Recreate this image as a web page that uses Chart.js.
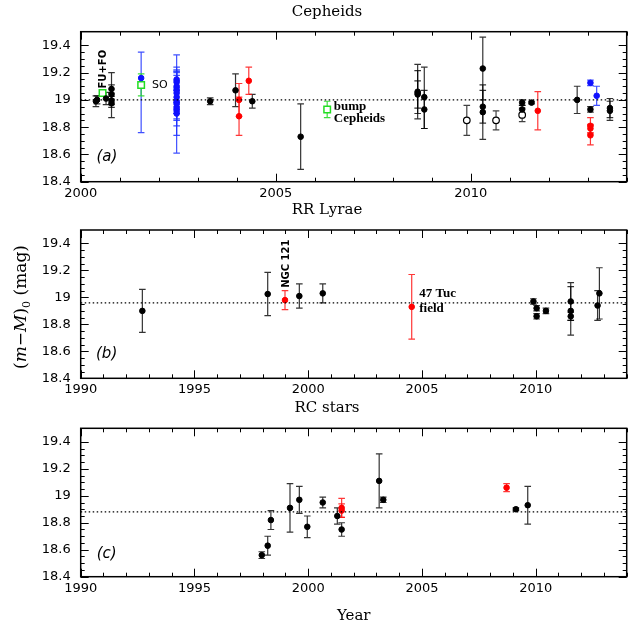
<!DOCTYPE html>
<html><head><meta charset="utf-8">
<script src="https://cdn.jsdelivr.net/npm/chart.js@4"></script>
<style>
html,body{margin:0;padding:0;background:#fff;}
#wrap{position:relative;width:634px;height:626px;overflow:hidden;}
canvas{position:absolute;left:0;}
</style></head><body>
<div id="wrap">
<canvas id="ca" width="634" height="200" style="top:0px;width:634px;height:200px"></canvas>
<canvas id="cb" width="634" height="200" style="top:200px;width:634px;height:200px"></canvas>
<canvas id="cc" width="634" height="226" style="top:400px;width:634px;height:226px"></canvas>
</div>
<script>
// ---- DATA: [year, distance modulus, error below, error above] ----
// Panel (a) Cepheids
const cephBlack = [
 [2000.39,18.99,0.04,0.04],[2000.42,19.00,0.03,0.03],[2000.65,19.01,0.045,0.045],
 [2000.79,19.08,0.03,0.03],[2000.79,19.04,0.17,0.16],[2000.79,18.995,0.03,0.03],[2000.79,18.975,0.03,0.03],
 [2003.32,18.99,0.025,0.025],[2003.97,19.07,0.12,0.12],[2004.40,18.99,0.05,0.05],
 [2005.64,18.73,0.24,0.24],
 [2008.64,19.06,0.20,0.20],[2008.64,19.05,0.15,0.165],[2008.64,19.04,0.10,0.10],
 [2008.81,19.02,0.23,0.22],[2008.81,18.93,0.14,0.14],
 [2010.31,19.23,0.23,0.23],[2010.31,18.95,0.24,0.16],[2010.31,18.91,0.08,0.16],
 [2011.32,18.98,0.02,0.02],[2011.32,18.93,0.03,0.03],[2011.56,18.98,0.01,0.01],
 [2012.73,19.00,0.10,0.10],[2013.07,18.93,0.02,0.02],
 [2013.57,18.94,0.07,0.07],[2013.57,18.92,0.07,0.07]
];
const cephOpen = [[2009.90,18.85,0.11,0.11],[2010.65,18.85,0.07,0.07],[2011.32,18.89,0.05,0.05]];
const cephRed = [
 [2004.06,19.00,0.12,0.12],[2004.06,18.88,0.14,0.14],[2004.31,19.14,0.10,0.10],
 [2011.72,18.92,0.14,0.14],
 [2013.07,18.81,0.06,0.06],[2013.07,18.79,0.03,0.03],[2013.07,18.74,0.07,0.07]
];
const cephBlue = [
 [2001.55,19.16,0.40,0.19],
 [2002.46,19.15,0.06,0.06],[2002.46,19.13,0.05,0.05],[2002.46,19.10,0.12,0.12],[2002.46,19.07,0.14,0.14],
 [2002.46,19.05,0.15,0.15],[2002.46,19.02,0.12,0.12],[2002.46,18.99,0.25,0.25],[2002.46,18.97,0.36,0.36],
 [2002.46,18.94,0.13,0.13],[2002.46,18.92,0.06,0.06],[2002.46,18.90,0.05,0.05],
 [2013.07,19.125,0.02,0.02],[2013.23,19.03,0.07,0.07]
];
const cephGreen = [[2000.56,19.05,0.02,0.02],[2001.55,19.11,0.08,0.08],[2006.32,18.93,0.06,0.06]];
const cephMean = 19.0;

// Panel (b) RR Lyrae
const rrBlack = [
 [1992.71,18.90,0.16,0.16],[1998.22,19.025,0.16,0.16],[1999.61,19.01,0.09,0.09],[2000.64,19.03,0.07,0.07],
 [2009.90,18.97,0.02,0.02],[2010.04,18.92,0.02,0.02],[2010.04,18.86,0.02,0.02],[2010.45,18.90,0.02,0.02],
 [2011.54,18.97,0.14,0.14],[2011.54,18.90,0.18,0.18],[2011.54,18.86,0.03,0.03],
 [2012.72,18.94,0.11,0.11],[2012.80,19.03,0.19,0.19]
];
const rrRed = [[1998.98,18.98,0.07,0.07],[2004.55,18.93,0.24,0.24]];
const rrMean = 18.96;

// Panel (c) RC stars
const rcBlack = [
 [1997.96,18.56,0.025,0.025],[1998.22,18.63,0.07,0.07],[1998.36,18.82,0.07,0.07],[1999.20,18.91,0.18,0.18],
 [1999.61,18.97,0.10,0.10],[1999.96,18.77,0.08,0.08],[2000.64,18.95,0.04,0.04],[2001.28,18.85,0.06,0.06],
 [2001.47,18.75,0.05,0.05],[2003.12,19.11,0.20,0.20],[2003.30,18.97,0.02,0.02],
 [2009.13,18.90,0.01,0.01],[2009.65,18.93,0.14,0.14]
];
const rcRed = [[2001.47,18.91,0.07,0.07],[2001.47,18.89,0.05,0.05],[2008.72,19.06,0.03,0.03]];
const rcMean = 18.88;

const yTicks = [18.4, 18.6, 18.8, 19.0, 19.2, 19.4];
const yRange = [18.4, 19.5];
const xRangeA = [2000, 2014];
const xRangeBC = [1990, 2014];

// ---- helpers ----
const SANS = "'DejaVu Sans', sans-serif";
const SERIF = "'DejaVu Serif', serif";
function pts(a){ return a.map(r => ({x:r[0], y:r[1]})); }
function errs(a){ return a.map(r => [r[2], r[3]]); }

function ds(arr, kind){
  const base = {data: pts(arr), err: errs(arr), pointBorderWidth: 1};
  if (kind === 'black') return Object.assign(base, {pointRadius:2.8, backgroundColor:'#000', borderColor:'#000', errColor:'rgba(0,0,0,0.8)'});
  if (kind === 'open') return Object.assign(base, {pointRadius:3.3, backgroundColor:'#fff', borderColor:'#000', pointBorderWidth:1.2, errColor:'rgba(0,0,0,0.75)'});
  if (kind === 'red') return Object.assign(base, {pointRadius:2.8, backgroundColor:'#ff0000', borderColor:'#ff0000', errColor:'rgba(255,20,20,0.85)'});
  if (kind === 'blue') return Object.assign(base, {pointRadius:2.8, backgroundColor:'#1010ff', borderColor:'#1010ff', errColor:'rgba(30,50,255,0.85)'});
  if (kind === 'green') return Object.assign(base, {pointRadius:4.6, pointStyle:'rect', backgroundColor:'#fff', borderColor:'#22dd22', pointBorderWidth:1.5, errColor:'rgba(40,220,40,0.9)'});
}
function meanLine(v, xr){
  return {data:[{x:xr[0], y:v},{x:xr[1], y:v}], showLine:true, pointRadius:0, borderColor:'#000', borderWidth:1.2, borderDash:[1.5,2.5]};
}

const panelPlugin = {
  id: 'panel',
  beforeDatasetsDraw(chart){
    const ctx = chart.ctx, ys = chart.scales.y;
    chart.data.datasets.forEach((d, i) => {
      if (!d.err) return;
      const meta = chart.getDatasetMeta(i);
      ctx.save();
      ctx.strokeStyle = d.errColor; ctx.lineWidth = 1.2;
      meta.data.forEach((p, j) => {
        const v = d.data[j].y, e = d.err[j];
        const y1 = ys.getPixelForValue(v - e[0]), y2 = ys.getPixelForValue(v + e[1]);
        ctx.beginPath();
        ctx.moveTo(p.x, y1); ctx.lineTo(p.x, y2);
        ctx.moveTo(p.x-3.3, y1); ctx.lineTo(p.x+3.3, y1);
        ctx.moveTo(p.x-3.3, y2); ctx.lineTo(p.x+3.3, y2);
        ctx.stroke();
      });
      ctx.restore();
    });
  },
  afterDraw(chart, args, o){
    const ctx = chart.ctx, xs = chart.scales.x, ys = chart.scales.y;
    const {left, right, top, bottom} = chart.chartArea;
    ctx.save();
    ctx.strokeStyle = '#000'; ctx.lineWidth = 1;
    ctx.beginPath();
    for (let yr = o.xr[0]; yr <= o.xr[1]; yr++) {
      const px = Math.round(xs.getPixelForValue(yr)) + 0.5;
      const L = (yr % 5 === 0) ? 8 : 4;
      ctx.moveTo(px, bottom); ctx.lineTo(px, bottom - L);
      ctx.moveTo(px, top); ctx.lineTo(px, top + L);
    }
    for (let k = 0; k <= 20; k++) {
      const v = yRange[0] + k * 0.05;
      if (v > yRange[1] + 1e-9) break;
      const py = Math.round(ys.getPixelForValue(v)) + 0.5;
      const L = (k % 4 === 0) ? 8 : 4;
      ctx.moveTo(left, py); ctx.lineTo(left + L, py);
      ctx.moveTo(right, py); ctx.lineTo(right - L, py);
    }
    ctx.stroke();
    ctx.lineWidth = 1.5;
    ctx.strokeRect(left, top, right - left, bottom - top);
    ctx.fillStyle = '#000';
    ctx.textAlign = 'center'; ctx.textBaseline = 'middle';
    ctx.font = '15px ' + SERIF;
    ctx.fillText(o.title, 327, o.titleY);
    (o.notes || []).forEach(n => {
      ctx.save();
      ctx.font = n.font; ctx.fillStyle = '#000';
      ctx.textAlign = n.align || 'left'; ctx.textBaseline = 'middle';
      const px = xs.getPixelForValue(n.x), py = ys.getPixelForValue(n.y);
      ctx.translate(px, py);
      if (n.rot) ctx.rotate(n.rot);
      ctx.fillText(n.text, 0, 0);
      ctx.restore();
    });
    if (o.xTitle) {
      ctx.font = '15px ' + SERIF; ctx.textAlign = 'center';
      ctx.fillText(o.xTitle, (left + right) / 2, o.xTitleY);
    }
    if (o.yTitle) {
      ctx.save();
      ctx.translate(21.7, o.yTitleY);
      ctx.rotate(-Math.PI / 2);
      ctx.textBaseline = 'middle'; ctx.textAlign = 'left';
      const parts = [
        ['(', '17px ' + SERIF, 0], ['m', 'italic 17px ' + SERIF, 0], ['\u2212', '17px ' + SERIF, 0],
        ['M', 'italic 17px ' + SERIF, 0], [')', '17px ' + SERIF, 0], ['0', '11px ' + SERIF, 5],
        [' (mag)', '17px ' + SERIF, 0]
      ];
      let w = 0;
      parts.forEach(p => { ctx.font = p[1]; w += ctx.measureText(p[0]).width; });
      let x = -w / 2;
      parts.forEach(p => { ctx.font = p[1]; ctx.fillText(p[0], x, p[2]); x += ctx.measureText(p[0]).width; });
      ctx.restore();
    }
    ctx.restore();
  }
};

function makeChart(id, datasets, xr, padTop, xh, panelOpts){
  return new Chart(document.getElementById(id), {
    type: 'scatter',
    data: {datasets},
    plugins: [panelPlugin],
    options: {
      responsive: false, animation: false, events: [],
      layout: {padding: {top: padTop, right: 7.3, left: 0, bottom: 0}},
      plugins: {legend: {display: false}, tooltip: {enabled: false}, title: {display: false},
                panel: Object.assign({xr}, panelOpts)},
      scales: {
        x: {type: 'linear', min: xr[0], max: xr[1],
            grid: {display: false, drawTicks: false}, border: {display: false},
            ticks: {stepSize: 5, autoSkip: false, maxRotation: 0, padding: 4, color: '#000',
                    font: {family: SANS, size: 13},
                    callback: v => (Math.abs(v % 5) < 1e-6 ? String(v) : '')},
            afterFit: s => { s.height = xh; }},
        y: {type: 'linear', min: yRange[0], max: yRange[1],
            grid: {display: false, drawTicks: false}, border: {display: false},
            afterBuildTicks: s => { s.ticks = yTicks.map(v => ({value: v})); },
            ticks: {padding: 10, color: '#000', font: {family: SANS, size: 13},
                    callback: v => String(Math.round(v * 10) / 10)},
            afterFit: s => { s.width = 80.7; }}
      }
    }
  });
}

const noteBold = "bold 10px " + SANS;
const noteSerif = "bold 13px 'Liberation Serif', serif";

makeChart('ca', [
  meanLine(cephMean, xRangeA),
  ds(cephBlack, 'black'), ds(cephOpen, 'open'), ds(cephRed, 'red'), ds(cephBlue, 'blue'), ds(cephGreen, 'green')
], xRangeA, 31.7, 18.3, {
  title: 'Cepheids', titleY: 12,
  notes: [
    {text: 'FU+FO', x: 2000.57, y: 19.225, font: noteBold, align: 'center', rot: -Math.PI/2},
    {text: 'SO', x: 2001.83, y: 19.105, font: "11px " + SANS},
    {text: 'bump', x: 2006.49, y: 18.95, font: noteSerif},
    {text: 'Cepheids', x: 2006.49, y: 18.865, font: noteSerif},
    {text: '(a)', x: 2000.67, y: 18.578, font: "italic 15px " + SANS, align: 'center'}
  ]
});

makeChart('cb', [
  meanLine(rrMean, xRangeBC),
  ds(rrBlack, 'black'), ds(rrRed, 'red')
], xRangeBC, 30, 21.7, {
  title: 'RR Lyrae', titleY: 10,
  yTitle: true, yTitleY: 107,
  notes: [
    {text: 'NGC 121', x: 1999.05, y: 19.25, font: noteBold, align: 'center', rot: -Math.PI/2},
    {text: '47 Tuc', x: 2004.88, y: 19.027, font: noteSerif},
    {text: 'field', x: 2004.88, y: 18.916, font: noteSerif},
    {text: '(b)', x: 1991.14, y: 18.576, font: "italic 15px " + SANS, align: 'center'}
  ]
});

makeChart('cc', [
  meanLine(rcMean, xRangeBC),
  ds(rcBlack, 'black'), ds(rcRed, 'red')
], xRangeBC, 28.3, 49.3, {
  title: 'RC stars', titleY: 8,
  xTitle: 'Year', xTitleY: 216,
  notes: [
    {text: '(c)', x: 1991.14, y: 18.566, font: "italic 15px " + SANS, align: 'center'}
  ]
});
</script>
</body></html>
